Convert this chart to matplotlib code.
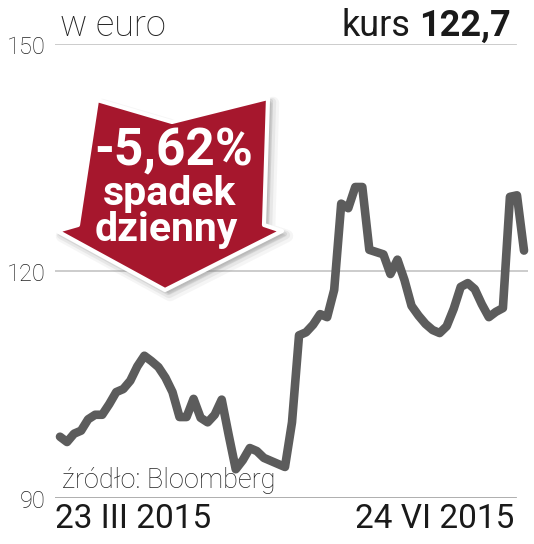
import matplotlib
matplotlib.use("Agg")
import matplotlib.pyplot as plt
from matplotlib.patches import Polygon
import numpy as np

# ---- data ----
start_label = "23 III 2015"
end_label = "24 VI 2015"
y_ticks = [90, 120, 150]
prices = [98.1, 97.4, 98.5, 98.9, 100.4, 101.0, 101.0, 102.4, 104.0, 104.4,
          105.5, 107.4, 108.8, 108.1, 107.3, 105.9, 104.0, 100.7, 100.7, 103.1,
          100.6, 100.0, 101.0, 103.0, 98.3, 93.8, 95.0, 96.6, 96.2, 95.3,
          94.9, 94.5, 94.1, 100.0, 111.5, 111.9, 112.9, 114.3, 113.9, 117.5,
          128.9, 128.3, 131.1, 131.1, 122.8, 122.5, 122.2, 119.6, 121.5, 118.8,
          115.4, 114.1, 113.0, 112.2, 111.8, 112.7, 115.0, 117.9, 118.4, 117.6,
          115.6, 113.9, 114.6, 115.1, 129.8, 130.0, 122.7]
days = list(range(len(prices)))
badge_lines = ["-5,62%", "spadek", "dzienny"]
unit_label = "w euro"
price_label = ("kurs", "122,7")
source_label = "źródło: Bloomberg"

W, H = 534, 544
fig = plt.figure(figsize=(W / 100, H / 100), dpi=100)
fig.patch.set_facecolor("white")

def fx(x):
    return x / W

def fy(y):
    return 1 - y / H

# axes: x px 55..528, y px 44..498
ax = fig.add_axes([fx(55), fy(498), (528 - 55) / W, (498 - 44) / H])
ax.set_xlim(-5 / 7.03, len(prices) - 1 + 4 / 7.03)
ax.set_ylim(90, 150)
ax.axis("off")

# gridlines
ax.axhline(150, xmin=0, xmax=(516 - 55) / 473, color="#c8c8c8", lw=1.3, zorder=1)
ax.axhline(120, xmin=0, xmax=1.0, color="#c8c8c8", lw=1.3, zorder=1)
ax.axhline(90, xmin=0, xmax=(516 - 55) / 473, color="#a8a8a8", lw=1.3, zorder=1)

# y tick labels
for v in y_ticks:
    ypx = 498 - (v - 90) * 454 / 60
    fig.text(fx(46), fy(ypx + 10), str(v), ha="right", va="baseline",
             fontsize=17, family="Roboto", fontweight="light", color="#222222")

# source text (under the line)
fig.text(fx(62), fy(488), source_label, ha="left", va="baseline",
         fontsize=19.5, family="Roboto", fontweight="light", color="#222222", zorder=2)

# price line
ax.plot(days, prices, color="#5c5c5c", lw=6.2, solid_joinstyle="round",
        solid_capstyle="round", zorder=5, clip_on=False)

# header
fig.text(fx(60), fy(36), unit_label, ha="left", va="baseline",
         fontsize=26, family="Roboto", fontweight="light", color="#222222")
tb = fig.text(fx(511), fy(36), price_label[1], ha="right", va="baseline",
              fontsize=26, family="Roboto", fontweight="bold", color="#1a1a1a")
fig.canvas.draw()
bb = tb.get_window_extent()
fig.text(bb.x0 / W - 9 / W, fy(36), price_label[0], ha="right", va="baseline",
         fontsize=26, family="Roboto", fontweight="normal", color="#1a1a1a")

# x labels
fig.text(fx(55), fy(528), start_label, ha="left", va="baseline",
         fontsize=24, family="Roboto", color="#1a1a1a")
fig.text(fx(514), fy(528), end_label, ha="right", va="baseline",
         fontsize=24, family="Roboto", color="#1a1a1a")

# badge arrow
pts = [(97, 100), (172, 122), (268, 98), (264, 225), (282, 231),
       (165, 290), (57, 231), (78, 225)]
for k, (off, lw, a) in enumerate([(5, 9, 0.08), (4, 6, 0.12), (3, 3, 0.18)]):
    sh = [(fx(x + off), fy(y + off)) for x, y in pts]
    fig.patches.append(Polygon(sh, closed=True, transform=fig.transFigure,
                               facecolor="#888888", edgecolor="#888888",
                               lw=lw, alpha=a, joinstyle="round", zorder=8))
poly = [(fx(x), fy(y)) for x, y in pts]
fig.patches.append(Polygon(poly, closed=True, transform=fig.transFigure,
                           facecolor="#a6172d", edgecolor="white", lw=3,
                           joinstyle="round", zorder=9))

fig.text(fx(174), fy(151), badge_lines[0], ha="center", va="center",
         fontsize=37, family="Roboto", fontweight="bold", color="white", zorder=10)
fig.text(fx(170), fy(205), badge_lines[1], ha="center", va="baseline",
         fontsize=29.5, family="Roboto", fontweight="bold", color="white", zorder=10)
fig.text(fx(166), fy(241), badge_lines[2], ha="center", va="baseline",
         fontsize=29.5, family="Roboto", fontweight="bold", color="white", zorder=10)

fig.savefig("out.png", dpi=100, facecolor="white")
